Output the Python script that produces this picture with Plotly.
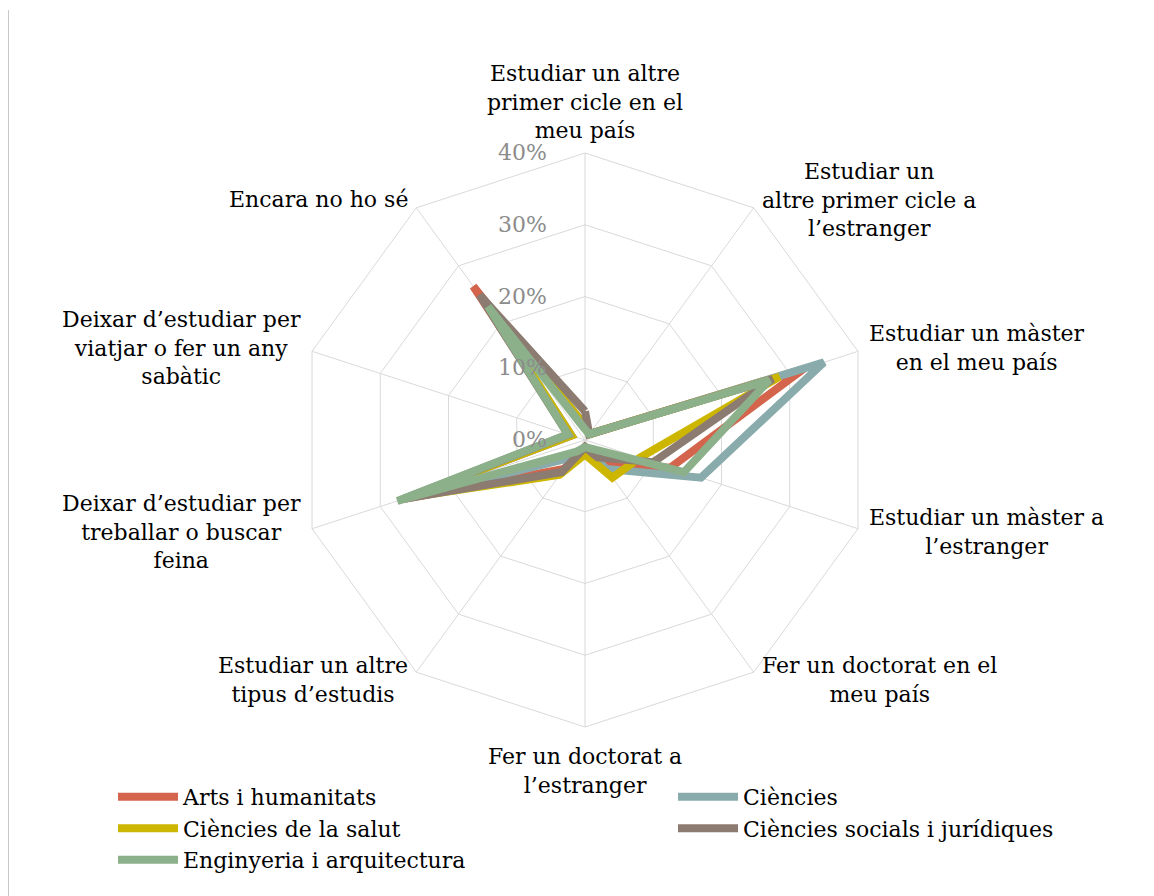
import math
import plotly.graph_objects as go

categories = [
    "Estudiar un altre<br>primer cicle en el<br>meu país",
    "Estudiar un<br>altre primer cicle a<br>l’estranger",
    "Estudiar un màster<br>en el meu país",
    "Estudiar un màster a<br>l’estranger",
    "Fer un doctorat en el<br>meu país",
    "Fer un doctorat a<br>l’estranger",
    "Estudiar un altre<br>tipus d’estudis",
    "Deixar d’estudiar per<br>treballar o buscar<br>feina",
    "Deixar d’estudiar per<br>viatjar o fer un any<br>sabàtic",
    "Encara no ho sé",
]

arts = [2, 1, 32, 12.5, 4, 1, 5, 26.5, 2, 26.5]
ciencies = [2, 1, 35, 17, 5, 1, 3, 26, 2, 23]
salut = [2, 1, 28.5, 8, 6.5, 2, 6, 26, 2, 22]
socials = [4, 1, 27.5, 10, 3, 1, 5.5, 26.5, 2.5, 25]
enginyeria = [1.5, 1, 27, 14.5, 1.5, 1, 2, 27.5, 2.5, 23]

series = [
    ("Arts i humanitats", arts, "#D4644B"),
    ("Ciències", ciencies, "#8AABAC"),
    ("Ciències de la salut", salut, "#CDB600"),
    ("Ciències socials i jurídiques", socials, "#8B7B70"),
    ("Enginyeria i arquitectura", enginyeria, "#8CB08A"),
]

W, H = 1154, 896
CX, CY, R = 577, 432, 287  # polar centre / radius in figure pixels

fig = go.Figure()
for name, vals, col in series:
    fig.add_trace(go.Scatterpolar(
        r=vals + vals[:1], theta=categories + categories[:1],
        mode="lines", name=name,
        line=dict(color=col, width=8),
    ))

# category labels, centred multi-line text placed just outside each spoke
annotations = []
n = len(categories)
for i, lab in enumerate(categories):
    a = math.radians(90 - 360 * i / n)
    c, s = math.cos(a), math.sin(a)
    if abs(c) < 0.2:
        off = 8 if s > 0 else 15
        xa, ya = "center", ("bottom" if s > 0 else "top")
    else:
        off = 10
        xa, ya = ("left" if c > 0 else "right"), "middle"
    px = CX + (R + off) * c
    py = (H - CY) + (R + off) * s
    annotations.append(dict(
        text=lab, x=px / W, y=py / H, xref="paper", yref="paper",
        xanchor=xa, yanchor=ya, align="center", showarrow=False,
        font=dict(family="DejaVu Serif", size=22, color="black"),
    ))

fig.update_layout(
    width=W, height=H,
    paper_bgcolor="white",
    margin=dict(l=0, r=0, t=0, b=0, autoexpand=False),
    font=dict(family="DejaVu Serif", size=22, color="black"),
    polar=dict(
        domain=dict(x=[(CX - R) / W, (CX + R) / W],
                    y=[(H - CY - R) / H, (H - CY + R) / H]),
        bgcolor="white",
        gridshape="linear",
        angularaxis=dict(
            direction="clockwise", rotation=90,
            gridcolor="#D9D9D9", linecolor="#D9D9D9", linewidth=1,
            showticklabels=False, ticks="",
        ),
        radialaxis=dict(
            range=[0, 40], dtick=10, ticksuffix="%",
            angle=90, tickangle=90, side="counterclockwise",
            showline=False, ticks="outside", ticklen=30,
            tickcolor="rgba(0,0,0,0)", gridcolor="#D9D9D9",
            tickfont=dict(family="DejaVu Serif", size=22, color="#8C8C8C"),
        ),
    ),
    legend=dict(
        orientation="h", x=0.091, y=0.143, xanchor="left", yanchor="top",
        entrywidth=485, itemwidth=60, bgcolor="rgba(0,0,0,0)",
        font=dict(family="DejaVu Serif", size=22),
        tracegroupgap=0,
    ),
    annotations=annotations,
    shapes=[dict(type="line", xref="paper", yref="paper",
                 x0=0, x1=0, y0=0, y1=1 - 2 / H,
                 line=dict(color="#C8C8C8", width=2))],
)

fig.write_html("out.html")
